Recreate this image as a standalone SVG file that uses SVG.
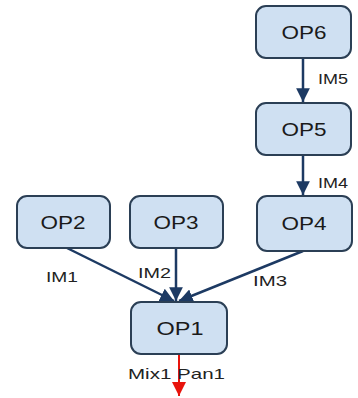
<svg xmlns="http://www.w3.org/2000/svg" width="358" height="398" viewBox="0 0 358 398">
  <style>
    .box { fill: #cfe0f2; stroke: #2b3f55; stroke-width: 2; }
    .name { font-family: "Liberation Sans", Arial, sans-serif; font-size: 18px; fill: #1a1a1a; text-anchor: middle; }
    .lbl { font-family: "Liberation Sans", Arial, sans-serif; font-size: 15px; fill: #222; }
    .edge { stroke: #1d3a63; stroke-width: 2.5; fill: none; }
    .out { stroke: #e8140c; stroke-width: 2; fill: none; }
  </style>
  <defs>
    <marker id="head" viewBox="0 0 10 10" refX="10" refY="5" markerWidth="5.5" markerHeight="5.5" markerUnits="strokeWidth" orient="auto">
      <path d="M0,0 L10,5 L0,10 z" fill="#1d3a63"/>
    </marker>
    <marker id="headRed" viewBox="0 0 10 10" refX="10" refY="5" markerWidth="7" markerHeight="7" markerUnits="strokeWidth" orient="auto">
      <path d="M0,0 L10,5 L0,10 z" fill="#e8140c"/>
    </marker>
  </defs>

  <g id="connectors">
    <line class="edge" x1="303" y1="58" x2="303" y2="102" marker-end="url(#head)"/>
    <line class="edge" x1="303" y1="155" x2="303" y2="195" marker-end="url(#head)"/>
    <line class="edge" x1="67" y1="248" x2="174" y2="301" marker-end="url(#head)"/>
    <line class="edge" x1="176" y1="248" x2="176" y2="301" marker-end="url(#head)"/>
    <line class="edge" x1="303" y1="251" x2="179" y2="301" marker-end="url(#head)"/>
    <line class="out" x1="179" y1="354" x2="179" y2="396" marker-end="url(#headRed)"/>
    <text class="lbl" x="318" y="84" textLength="30" lengthAdjust="spacingAndGlyphs">IM5</text>
    <text class="lbl" x="318" y="188" textLength="30" lengthAdjust="spacingAndGlyphs">IM4</text>
    <text class="lbl" x="46" y="282" textLength="32" lengthAdjust="spacingAndGlyphs">IM1</text>
    <text class="lbl" x="138" y="278" textLength="33" lengthAdjust="spacingAndGlyphs">IM2</text>
    <text class="lbl" x="253" y="286" textLength="34" lengthAdjust="spacingAndGlyphs">IM3</text>
    <text class="lbl" x="128" y="379" textLength="97" lengthAdjust="spacingAndGlyphs">Mix1 Pan1</text>
  </g>

  <g id="op6">
    <rect class="box" x="256" y="6" width="95" height="52" rx="10"/>
    <text class="name" x="304" y="39" textLength="45" lengthAdjust="spacingAndGlyphs">OP6</text>
  </g>
  <g id="op5">
    <rect class="box" x="256" y="103" width="95" height="52" rx="10"/>
    <text class="name" x="304" y="136" textLength="45" lengthAdjust="spacingAndGlyphs">OP5</text>
  </g>
  <g id="op4">
    <rect class="box" x="257" y="196" width="95" height="55" rx="10"/>
    <text class="name" x="304" y="230" textLength="45" lengthAdjust="spacingAndGlyphs">OP4</text>
  </g>
  <g id="op2">
    <rect class="box" x="17" y="196" width="93" height="52" rx="10"/>
    <text class="name" x="63" y="229" textLength="45" lengthAdjust="spacingAndGlyphs">OP2</text>
  </g>
  <g id="op3">
    <rect class="box" x="130" y="196" width="93" height="52" rx="10"/>
    <text class="name" x="176" y="229" textLength="45" lengthAdjust="spacingAndGlyphs">OP3</text>
  </g>
  <g id="op1">
    <rect class="box" x="131" y="302" width="96" height="52" rx="10"/>
    <text class="name" x="180" y="335" textLength="47" lengthAdjust="spacingAndGlyphs">OP1</text>
  </g>
</svg>
